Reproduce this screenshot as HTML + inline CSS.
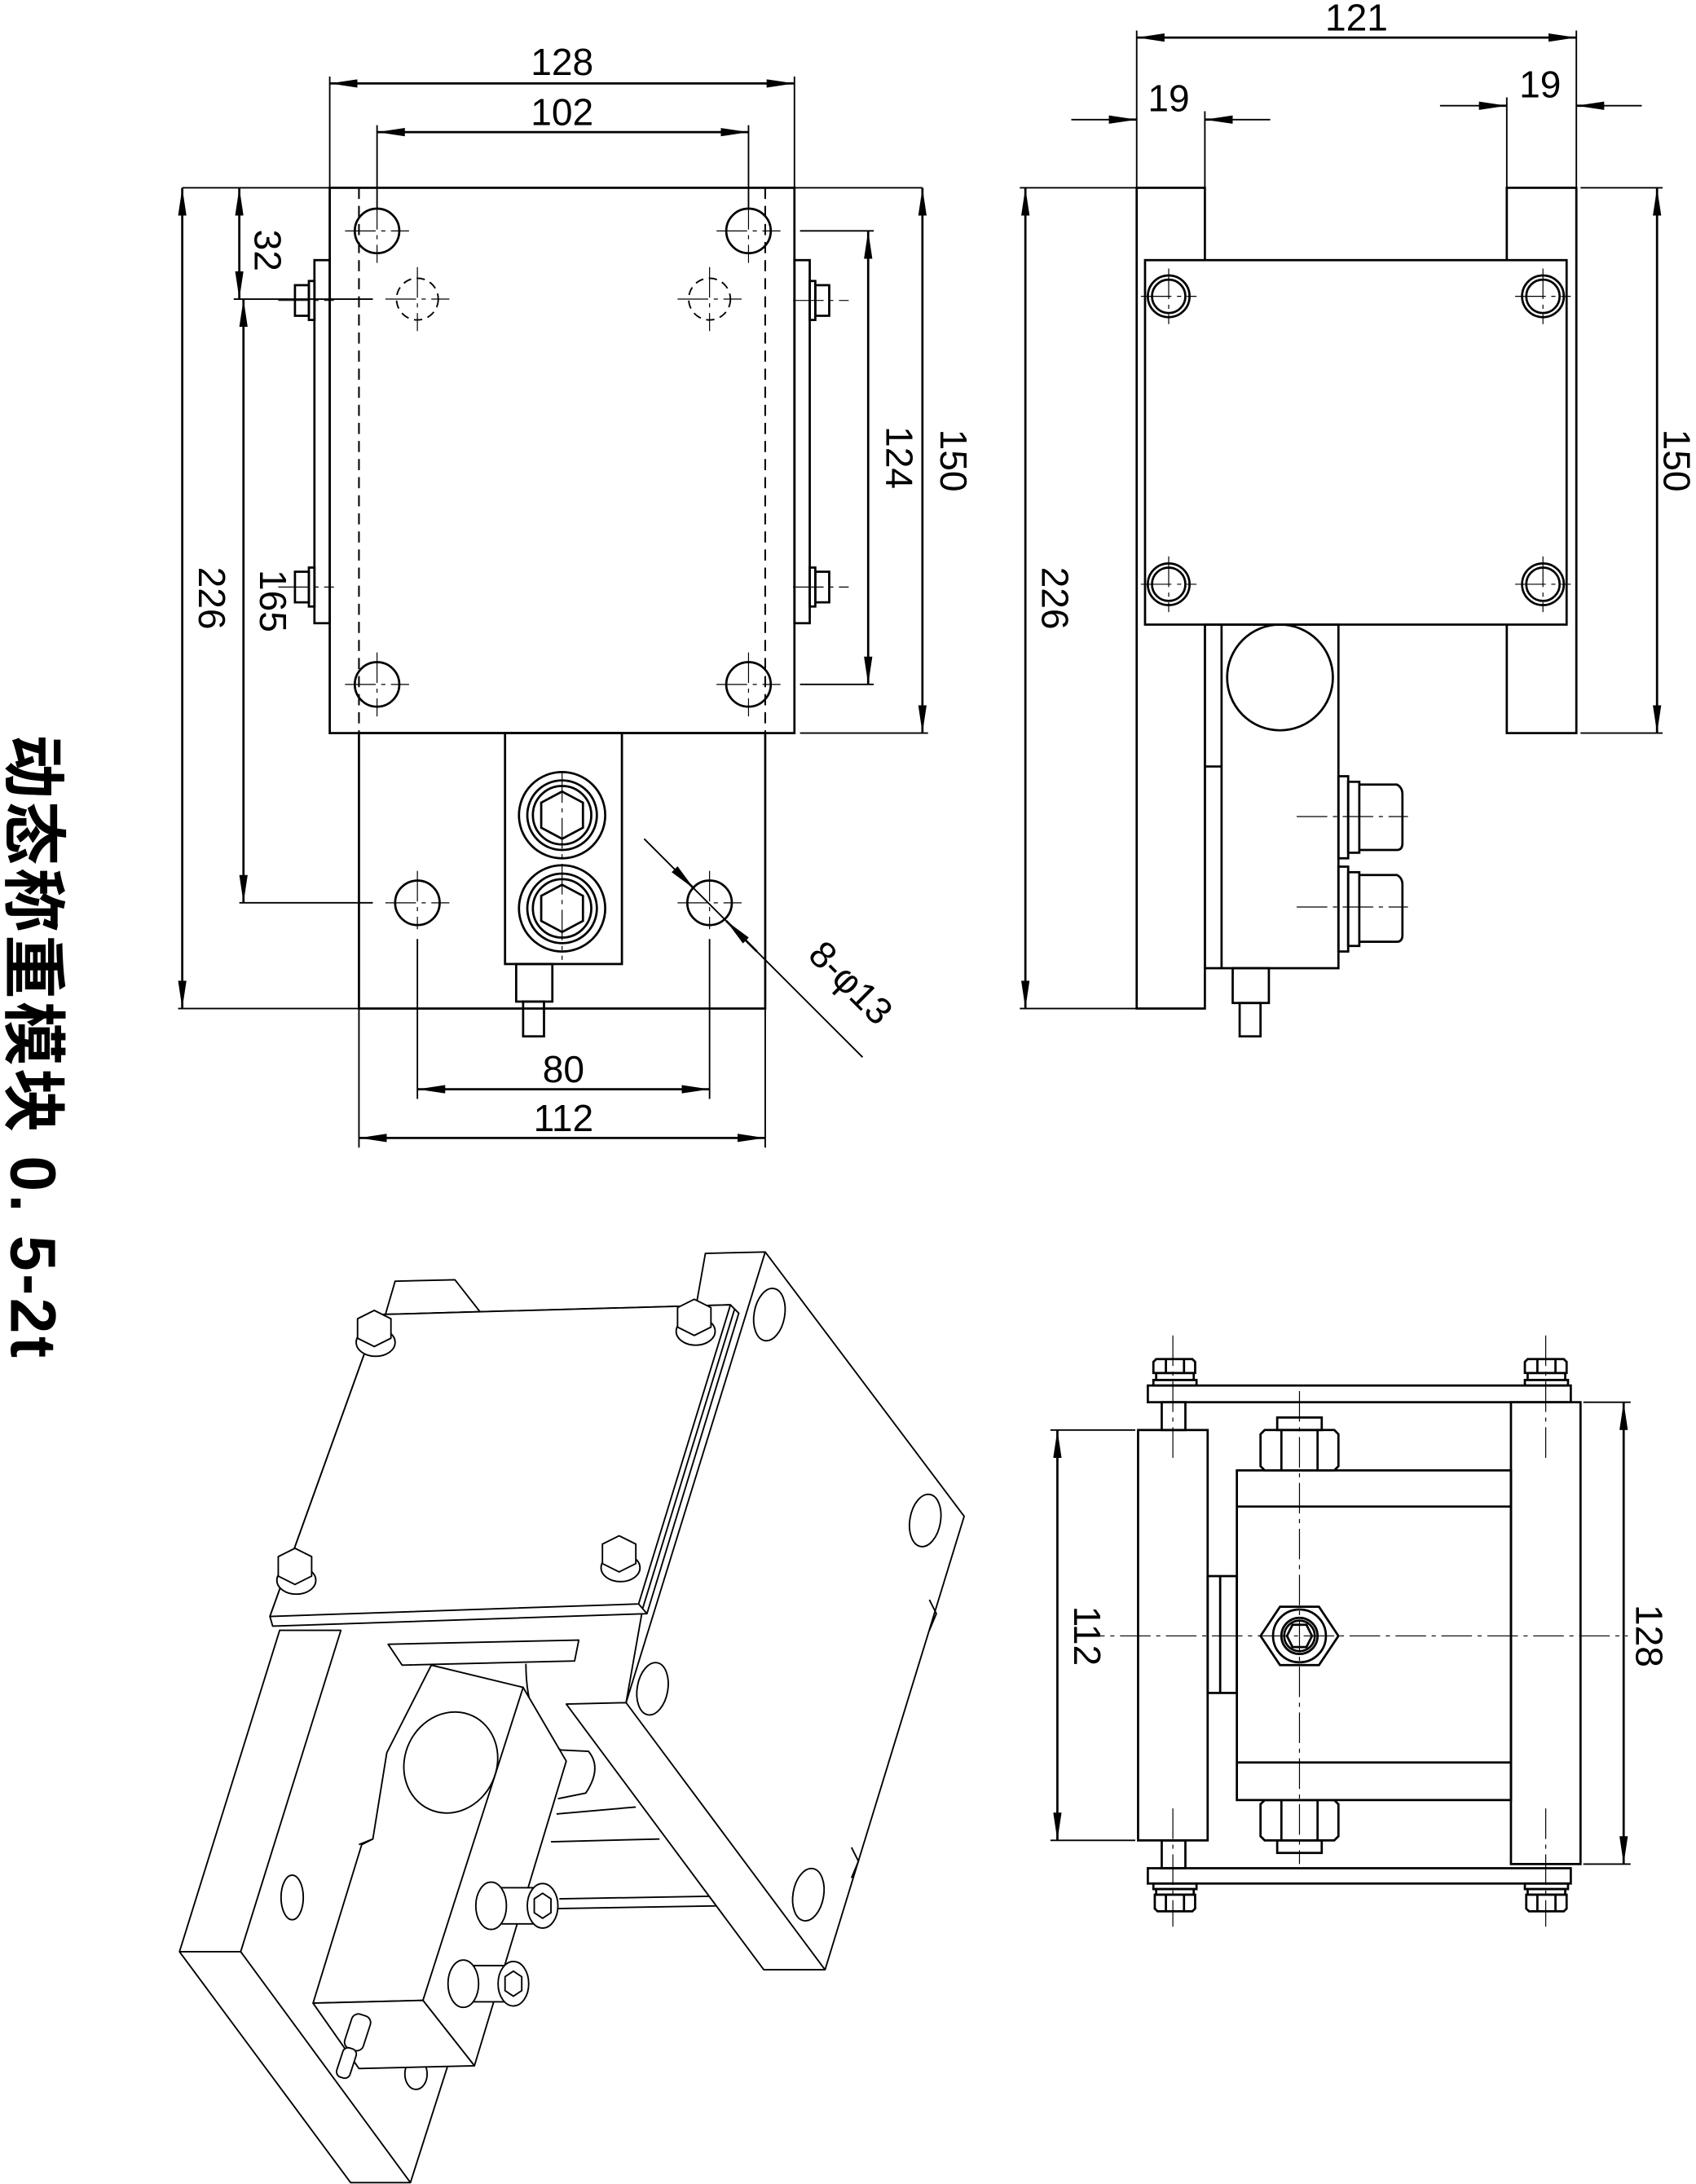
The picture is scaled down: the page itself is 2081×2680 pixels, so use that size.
<!DOCTYPE html>
<html><head><meta charset="utf-8"><style>
html,body{margin:0;padding:0;background:#fff}
svg{display:block}
text{font-family:"Liberation Sans","Noto Sans CJK SC",sans-serif}
.d{font-size:27px;fill:#000;font-weight:normal}
</style></head><body>
<svg width="2081" height="2680" viewBox="0 0 1219 1570" preserveAspectRatio="none" xmlns="http://www.w3.org/2000/svg">
<defs>
<marker id="a" viewBox="0 0 20 6" refX="20" refY="3" markerWidth="20" markerHeight="6" markerUnits="userSpaceOnUse" orient="auto-start-reverse"><path d="M0,0 L20,3 L0,6 z" fill="#000"/></marker>
</defs>
<g fill="none" stroke="#000" stroke-width="1.6">
<!-- ===== TOP LEFT VIEW ===== -->
<rect x="237" y="135" width="334" height="392"/>
<line x1="258" y1="135" x2="258" y2="527" stroke-dasharray="8,5" stroke-width="1.2"/>
<line x1="550" y1="135" x2="550" y2="527" stroke-dasharray="8,5" stroke-width="1.2"/>
<rect x="226" y="187" width="11" height="261"/>
<rect x="571" y="187" width="11" height="261"/>
<rect x="212" y="205" width="10" height="22"/><rect x="222" y="202" width="4" height="28"/>
<rect x="212" y="411" width="10" height="22"/><rect x="222" y="408" width="4" height="28"/>
<rect x="586" y="205" width="10" height="22"/><rect x="582" y="202" width="4" height="28"/>
<rect x="586" y="411" width="10" height="22"/><rect x="582" y="408" width="4" height="28"/>
<circle cx="271" cy="166" r="16"/><circle cx="538" cy="166" r="16"/>
<circle cx="271" cy="492" r="16"/><circle cx="538" cy="492" r="16"/>
<circle cx="300" cy="215" r="15" stroke-dasharray="6,4" stroke-width="1.1"/>
<circle cx="510" cy="215" r="15" stroke-dasharray="6,4" stroke-width="1.1"/>
<rect x="258" y="527" width="292" height="198"/>
<rect x="363" y="527" width="84" height="166"/>
<circle cx="404" cy="586" r="31"/><circle cx="404" cy="586" r="25"/><circle cx="404" cy="586" r="21"/>
<polygon points="404,569 419,577 419,595 404,603 389,595 389,577"/>
<circle cx="404" cy="653" r="31"/><circle cx="404" cy="653" r="25"/><circle cx="404" cy="653" r="21"/>
<polygon points="404,636 419,644 419,662 404,670 389,662 389,644"/>
<rect x="371" y="693" width="26" height="27"/><rect x="376" y="720" width="15" height="25"/>
<circle cx="300" cy="649" r="16"/><circle cx="510" cy="649" r="16"/>
<g stroke-width="0.7" stroke-dasharray="22,4,3,4">
<line x1="248" y1="166" x2="294" y2="166"/><line x1="271" y1="143" x2="271" y2="189"/>
<line x1="515" y1="166" x2="561" y2="166"/><line x1="538" y1="143" x2="538" y2="189"/>
<line x1="248" y1="492" x2="294" y2="492"/><line x1="271" y1="469" x2="271" y2="515"/>
<line x1="515" y1="492" x2="561" y2="492"/><line x1="538" y1="469" x2="538" y2="515"/>
<line x1="277" y1="215" x2="323" y2="215"/><line x1="300" y1="192" x2="300" y2="238"/>
<line x1="487" y1="215" x2="533" y2="215"/><line x1="510" y1="192" x2="510" y2="238"/>
<line x1="277" y1="649" x2="323" y2="649"/><line x1="487" y1="649" x2="533" y2="649"/>
<line x1="300" y1="626" x2="300" y2="668"/><line x1="510" y1="626" x2="510" y2="668"/>
<line x1="200" y1="216" x2="240" y2="216"/><line x1="200" y1="422" x2="240" y2="422"/>
<line x1="570" y1="216" x2="610" y2="216"/><line x1="570" y1="422" x2="610" y2="422"/>
<line x1="404" y1="555" x2="404" y2="690"/>
</g>
<g stroke-width="1.1">
<line x1="237" y1="135" x2="237" y2="55"/><line x1="571" y1="135" x2="571" y2="55"/>
<line x1="271" y1="150" x2="271" y2="90"/><line x1="538" y1="150" x2="538" y2="90"/>
<line x1="131" y1="135" x2="663" y2="135"/>
<line x1="128" y1="725" x2="258" y2="725"/>
<line x1="168" y1="215" x2="268" y2="215"/>
<line x1="172" y1="649" x2="268" y2="649"/>
<line x1="575" y1="166" x2="628" y2="166"/><line x1="575" y1="492" x2="628" y2="492"/>
<line x1="575" y1="527" x2="667" y2="527"/>
<line x1="300" y1="675" x2="300" y2="790"/><line x1="510" y1="675" x2="510" y2="790"/>
<line x1="258" y1="725" x2="258" y2="825"/><line x1="550" y1="725" x2="550" y2="825"/>
<line x1="463" y1="603" x2="620" y2="760"/>
</g>
<g stroke-width="1.6" marker-start="url(#a)" marker-end="url(#a)">
<line x1="237" y1="60" x2="571" y2="60"/>
<line x1="271" y1="95" x2="538" y2="95"/>
<line x1="131" y1="135" x2="131" y2="725"/>
<line x1="175" y1="215" x2="175" y2="649"/>
<line x1="624" y1="166" x2="624" y2="492"/>
<line x1="663" y1="135" x2="663" y2="527"/>
<line x1="300" y1="783" x2="510" y2="783"/>
<line x1="258" y1="818" x2="550" y2="818"/>
<line x1="172" y1="135" x2="172" y2="215"/>
</g>
<line x1="490" y1="630" x2="499" y2="639" stroke-width="1.6" marker-end="url(#a)"/>
<line x1="544" y1="684" x2="522" y2="662" stroke-width="1.6" marker-end="url(#a)"/>

<!-- ===== TOP RIGHT VIEW ===== -->
<rect x="817" y="135" width="49" height="590"/>
<rect x="1083" y="135" width="50" height="392"/>
<rect x="823" y="187" width="303" height="262" fill="#fff"/>
<circle cx="840" cy="213" r="15"/><circle cx="840" cy="213" r="12"/>
<circle cx="1109" cy="213" r="15"/><circle cx="1109" cy="213" r="12"/>
<circle cx="840" cy="420" r="15"/><circle cx="840" cy="420" r="12"/>
<circle cx="1109" cy="420" r="15"/><circle cx="1109" cy="420" r="12"/>
<rect x="866" y="449" width="96" height="247"/>
<line x1="878" y1="449" x2="878" y2="696"/>
<line x1="866" y1="551" x2="878" y2="551"/>
<circle cx="920" cy="487" r="38"/>
<rect x="962" y="558" width="7" height="59"/><rect x="969" y="562" width="8" height="51"/>
<path d="M977,564 H1004 Q1008,566 1008,571 V606 Q1008,611 1004,611 H977"/>
<rect x="962" y="623" width="7" height="61"/><rect x="969" y="627" width="8" height="53"/>
<path d="M977,629 H1004 Q1008,631 1008,636 V672 Q1008,677 1004,677 H977"/>
<rect x="886" y="696" width="26" height="25"/><rect x="891" y="721" width="15" height="24"/>
<g stroke-width="0.7" stroke-dasharray="22,4,3,4">
<line x1="820" y1="213" x2="860" y2="213"/><line x1="840" y1="193" x2="840" y2="233"/>
<line x1="1089" y1="213" x2="1129" y2="213"/><line x1="1109" y1="193" x2="1109" y2="233"/>
<line x1="820" y1="420" x2="860" y2="420"/><line x1="840" y1="400" x2="840" y2="440"/>
<line x1="1089" y1="420" x2="1129" y2="420"/><line x1="1109" y1="400" x2="1109" y2="440"/>
<line x1="932" y1="587" x2="1012" y2="587"/><line x1="932" y1="652" x2="1012" y2="652"/>
</g>
<g stroke-width="1.1">
<line x1="817" y1="135" x2="817" y2="22"/><line x1="1133" y1="135" x2="1133" y2="22"/>
<line x1="866" y1="135" x2="866" y2="80"/><line x1="1083" y1="135" x2="1083" y2="70"/>
<line x1="733" y1="135" x2="817" y2="135"/><line x1="733" y1="725" x2="817" y2="725"/>
<line x1="1136" y1="135" x2="1195" y2="135"/><line x1="1136" y1="527" x2="1195" y2="527"/>
<line x1="770" y1="86" x2="817" y2="86"/><line x1="866" y1="86" x2="913" y2="86"/>
<line x1="1035" y1="76" x2="1083" y2="76"/><line x1="1133" y1="76" x2="1180" y2="76"/>
</g>
<g stroke-width="1.6" marker-start="url(#a)" marker-end="url(#a)">
<line x1="817" y1="27" x2="1133" y2="27"/>
<line x1="737" y1="135" x2="737" y2="725"/>
<line x1="1191" y1="135" x2="1191" y2="527"/>
</g>
<line x1="797" y1="86" x2="817" y2="86" stroke-width="1.6" marker-end="url(#a)"/>
<line x1="886" y1="86" x2="866" y2="86" stroke-width="1.6" marker-end="url(#a)"/>
<line x1="1063" y1="76" x2="1083" y2="76" stroke-width="1.6" marker-end="url(#a)"/>
<line x1="1153" y1="76" x2="1133" y2="76" stroke-width="1.6" marker-end="url(#a)"/>

<!-- ===== BOTTOM RIGHT VIEW ===== -->
<rect x="825" y="996" width="304" height="12"/>
<rect x="825" y="1343" width="304" height="11"/>
<rect x="818" y="1028" width="50" height="295"/>
<rect x="1086" y="1008" width="50" height="332"/>
<rect x="889" y="1057" width="197" height="237"/>
<line x1="889" y1="1083" x2="1086" y2="1083"/><line x1="889" y1="1267" x2="1086" y2="1267"/>
<rect x="868" y="1133" width="21" height="84"/><line x1="877" y1="1133" x2="877" y2="1217"/>
<rect x="835" y="1008" width="17" height="20"/><rect x="835" y="1323" width="17" height="20"/>
<!-- top bolts -->
<rect x="831" y="987" width="27" height="5"/><rect x="829" y="992" width="31" height="4"/>
<path d="M831,977 h26 l2,2 v8 h-30 v-8 z M838,977 v10 M851,977 v10"/>
<rect x="1098" y="987" width="27" height="5"/><rect x="1096" y="992" width="31" height="4"/>
<path d="M1098,977 h26 l2,2 v8 h-30 v-8 z M1105,977 v10 M1118,977 v10"/>
<!-- bottom bolts -->
<rect x="829" y="1354" width="31" height="4"/><rect x="831" y="1358" width="27" height="4"/>
<path d="M830,1362 h29 v10 l-2,2 h-25 l-2,-2 z M838,1362 v12 M851,1362 v12"/>
<rect x="1096" y="1354" width="31" height="4"/><rect x="1098" y="1358" width="27" height="4"/>
<path d="M1097,1362 h29 v10 l-2,2 h-25 l-2,-2 z M1105,1362 v12 M1118,1362 v12"/>
<!-- nuts -->
<rect x="918" y="1019" width="32" height="9"/>
<path d="M909,1028 h50 l3,3 v23 l-3,3 h-50 l-3,-3 v-23 z M921,1028 v29 M947,1028 v29"/>
<path d="M909,1294 h50 l3,3 v23 l-3,3 h-50 l-3,-3 v-23 z M921,1294 v29 M947,1294 v29"/>
<rect x="918" y="1323" width="32" height="9"/>
<polygon points="920,1155 948,1155 962,1176 948,1197 920,1197 906,1176"/>
<circle cx="934" cy="1176" r="19"/><circle cx="934" cy="1176" r="13"/><circle cx="934" cy="1176" r="11"/>
<polygon points="929,1168 939,1168 943,1176 939,1184 929,1184 925,1176"/>
<g stroke-width="0.7" stroke-dasharray="22,4,3,4">
<line x1="772" y1="1176" x2="1170" y2="1176"/>
<line x1="934" y1="1000" x2="934" y2="1340"/>
<line x1="843" y1="960" x2="843" y2="1050"/><line x1="1111" y1="960" x2="1111" y2="1050"/>
<line x1="843" y1="1300" x2="843" y2="1385"/><line x1="1111" y1="1300" x2="1111" y2="1385"/>
</g>
<g stroke-width="1.1">
<line x1="755" y1="1028" x2="816" y2="1028"/><line x1="755" y1="1323" x2="816" y2="1323"/>
<line x1="1138" y1="1008" x2="1172" y2="1008"/><line x1="1138" y1="1340" x2="1172" y2="1340"/>
</g>
<g stroke-width="1.6" marker-start="url(#a)" marker-end="url(#a)">
<line x1="760" y1="1028" x2="760" y2="1323"/>
<line x1="1167" y1="1008" x2="1167" y2="1340"/>
</g>

<!-- ===== ISOMETRIC ===== -->
<g stroke-width="1.1" stroke-linejoin="round">
<!-- back bar -->
<polygon points="284,921 327,920 345,943 277,945" fill="#fff"/>
<!-- left base bar -->
<polygon points="201,1172 245,1172 173,1403 295,1569 252,1569 129,1403" fill="#fff"/>
<line x1="173" y1="1403" x2="129" y2="1403"/>
<line x1="295" y1="1569" x2="325" y2="1475"/>
<ellipse cx="210" cy="1364" rx="8" ry="16"/>
<ellipse cx="299" cy="1491" rx="8" ry="11"/>
<!-- rods -->
<line x1="400" y1="1304" x2="457" y2="1299"/><line x1="396" y1="1324" x2="474" y2="1322"/>
<line x1="402" y1="1365" x2="577" y2="1362"/><line x1="400" y1="1372" x2="580" y2="1369"/>
<!-- bracket -->
<path d="M378,1196 q0,45 25,62 l20,1 q10,12 -2,30 l-20,4" fill="#fff"/>
<!-- load cell body -->
<polygon points="310,1197 376,1213 407,1266 341,1485 304,1438 225,1440 260,1326 268,1322 278,1260" fill="#fff"/>
<line x1="376" y1="1213" x2="304" y2="1438"/>
<polygon points="225,1440 304,1438 341,1485 258,1487" fill="#fff"/>
<line x1="258" y1="1326" x2="268" y2="1322"/>
<ellipse cx="324" cy="1267" rx="33" ry="37" transform="rotate(25 324 1267)"/>
<!-- block under plate -->
<polygon points="279,1182 416,1179 413,1194 289,1197" fill="#fff"/>
<!-- bolts -->
<path d="M353,1357 h37 v26 h-37 z" fill="#fff"/>
<ellipse cx="353" cy="1370" rx="11" ry="17" fill="#fff"/>
<ellipse cx="390" cy="1370" rx="11" ry="16" fill="#fff"/>
<polygon points="390,1361 396,1365 396,1375 390,1379 384,1375 384,1365"/>
<path d="M333,1413 h36 v26 h-36 z" fill="#fff"/>
<ellipse cx="333" cy="1426" rx="11" ry="17" fill="#fff"/>
<ellipse cx="369" cy="1426" rx="11" ry="16" fill="#fff"/>
<polygon points="369,1417 375,1421 375,1431 369,1435 363,1431 363,1421"/>
<!-- pin -->
<rect x="250" y="1448" width="14" height="26" rx="5" fill="#fff" transform="rotate(18 257 1461)"/>
<rect x="244" y="1472" width="10" height="22" rx="4" fill="#fff" transform="rotate(18 249 1483)"/>
<!-- right big plate -->
<polygon points="507,901 550,900 693,1090 593,1416 549,1416 407,1225 450,1224" fill="#fff"/>
<line x1="550" y1="900" x2="450" y2="1224"/>
<line x1="450" y1="1224" x2="593" y2="1416"/>
<ellipse cx="553" cy="945" rx="11" ry="19" transform="rotate(10 553 945)"/>
<ellipse cx="665" cy="1093" rx="11" ry="19" transform="rotate(10 665 1093)"/>
<ellipse cx="469" cy="1214" rx="11" ry="19" transform="rotate(10 469 1214)"/>
<ellipse cx="581" cy="1362" rx="11" ry="19" transform="rotate(10 581 1362)"/>
<path d="M668,1150 l5,10 -5,12"/><path d="M612,1328 l5,10 -5,12"/>
<!-- top plate -->
<polygon points="272,945 525,938 531,944 465,1160 196,1169 194,1162" fill="#fff"/>
<polygon points="272,945 525,938 459,1153 194,1162" fill="#fff"/>
<line x1="459" y1="1153" x2="465" y2="1160"/>
<line x1="528" y1="941" x2="462" y2="1156"/>
<g fill="#fff">
<ellipse cx="270" cy="965" rx="14" ry="10"/><polygon points="257,948 269,942 281,948 281,962 269,968 257,962"/>
<ellipse cx="500" cy="957" rx="14" ry="10"/><polygon points="487,940 499,934 511,940 511,954 499,960 487,954"/>
<ellipse cx="213" cy="1136" rx="14" ry="10"/><polygon points="200,1119 212,1113 224,1119 224,1133 212,1139 200,1133"/>
<ellipse cx="446" cy="1127" rx="14" ry="10"/><polygon points="433,1110 445,1104 457,1110 457,1124 445,1130 433,1124"/>
</g>
</g>
</g>
<!-- text -->
<g class="d" text-anchor="middle">
<text x="404" y="54">128</text>
<text x="404" y="90">102</text>
<text x="405" y="778">80</text>
<text x="405" y="813">112</text>
<text x="975" y="22">121</text>
<text x="840" y="80">19</text>
<text x="1107" y="70">19</text>
<text transform="translate(143,430) rotate(90)">226</text>
<text transform="translate(187,432) rotate(90)">165</text>
<text transform="translate(183,180) rotate(90)">32</text>
<text transform="translate(637,329) rotate(90)">124</text>
<text transform="translate(676,331) rotate(90)">150</text>
<text transform="translate(749,430) rotate(90)">226</text>
<text transform="translate(1196,331) rotate(90)">150</text>
<text transform="translate(772,1176) rotate(90)">112</text>
<text transform="translate(1176,1176) rotate(90)">128</text>
<text transform="translate(605,713) rotate(45)">8-φ13</text>
</g>
<text transform="translate(8,528) rotate(90)" textLength="448" lengthAdjust="spacing" style="font-family:'Liberation Sans','Noto Sans CJK SC',sans-serif;font-size:46px;font-weight:bold" fill="#000">动态称重模块 0. 5-2t</text>
</svg>
</body></html>
